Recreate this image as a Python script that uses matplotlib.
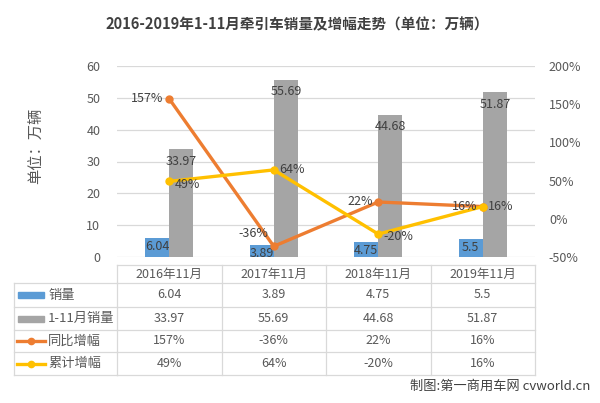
import matplotlib.pyplot as plt
import matplotlib.transforms as mtransforms
from matplotlib.lines import Line2D
from matplotlib.patches import Rectangle

plt.rcParams['font.family'] = ['Noto Sans CJK SC', 'DejaVu Sans']

# ----------------------------
# Data
# ----------------------------
categories = ["2016年11月", "2017年11月", "2018年11月", "2019年11月"]
nov_sales = [6.04, 3.89, 4.75, 5.5]
ytd_sales = [33.97, 55.69, 44.68, 51.87]
yoy_growth = [157, -36, 22, 16]
ytd_growth = [49, 64, -20, 16]

series_names = ["销量", "1-11月销量", "同比增幅", "累计增幅"]

BLUE = "#5B9BD5"
GRAY = "#A5A5A5"
ORANGE = "#ED7D31"
YELLOW = "#FFC000"
TEXT = "#595959"
GRID = "#D9D9D9"

W, H = 600, 403
fig = plt.figure(figsize=(W / 100, H / 100), dpi=100)


def fx(px):
    return px / W


def fy(py):
    return 1 - py / H


# plot area (pixels): x 117..535, y 66..257
ax = fig.add_axes([fx(117), fy(257), fx(535) - fx(117), fy(66) - fy(257)])
ax2 = ax.twinx()

x = list(range(len(categories)))
bw = 0.23

# ----------------------------
# Bars
# ----------------------------
b1 = ax.bar([i - bw / 2 for i in x], nov_sales, width=bw, color=BLUE, zorder=2)
b2 = ax.bar([i + bw / 2 for i in x], ytd_sales, width=bw, color=GRAY, zorder=2)

for rect, v in zip(b1, nov_sales):
    ax.text(rect.get_x() + rect.get_width() / 2, v - 0.6, f"{v:g}",
            ha="center", va="top", fontsize=9, color="#404040", zorder=5)
for rect, v in zip(b2, ytd_sales):
    ax.text(rect.get_x() + rect.get_width() / 2, v - 1.8, f"{v:g}",
            ha="center", va="top", fontsize=9, color="#404040", zorder=5)

ax.set_xlim(-0.5, len(categories) - 0.5)
ax.set_ylim(0, 60)
ax.set_yticks(range(0, 61, 10))
ax.yaxis.grid(True, color=GRID, linewidth=0.9)
ax.set_axisbelow(True)
ax.set_xticks([])
for s in ax.spines.values():
    s.set_visible(False)
ax.tick_params(axis="y", length=0, labelsize=9, colors=TEXT, pad=12)

# ----------------------------
# Lines
# ----------------------------
ax2.plot(x, yoy_growth, color=ORANGE, lw=2.4, marker="o", ms=5, zorder=4)
ax2.plot(x, ytd_growth, color=YELLOW, lw=2.4, marker="o", ms=5, zorder=4)

# label offsets (points) so the labels sit like the excel ones
yoy_offsets = [(-4, 0), (-4, 9), (-4, 0), (-4, 0)]
ytd_offsets = [(4, -2), (4, 0), (4, -2), (4, 0)]

for i, v in enumerate(yoy_growth):
    ax2.annotate(f"{v}%", (i, v), xytext=yoy_offsets[i], textcoords="offset points",
                 ha="right", va="center", fontsize=9, color="#404040", zorder=6)
for i, v in enumerate(ytd_growth):
    ax2.annotate(f"{v}%", (i, v), xytext=ytd_offsets[i], textcoords="offset points",
                 ha="left", va="center", fontsize=9, color="#404040", zorder=6)

ax2.set_ylim(-50, 200)
ax2.set_yticks(range(-50, 201, 50))
ax2.set_yticklabels([f"{t}%" for t in range(-50, 201, 50)])
for s in ax2.spines.values():
    s.set_visible(False)
ax2.tick_params(axis="y", length=0, labelsize=9, colors=TEXT, pad=10)

# ----------------------------
# Title and axis label
# ----------------------------
fig.text(fx(297), fy(24), "2016-2019年1-11月牵引车销量及增幅走势（单位：万辆）",
         ha="center", va="center", fontsize=10.5, fontweight="bold", color="#404040")
fig.text(fx(37), fy(146), "单位：万辆", rotation=90, ha="center", va="center",
         fontsize=11, color=TEXT)

# ----------------------------
# Data table
# ----------------------------
trans = mtransforms.blended_transform_factory(ax.transData, fig.transFigure)
row_edges = [265, 283, 307, 330, 352, 375]
left_px, first_col_px = 14, 117
line_kw = dict(color=GRID, lw=0.9, clip_on=False)

# horizontal lines across data columns
for i, r in enumerate(row_edges):
    fig.add_artist(Line2D([-0.5, len(categories) - 0.5], [fy(r), fy(r)],
                          transform=trans, **line_kw))
    if i >= 1:
        fig.add_artist(Line2D([fx(left_px), fx(first_col_px)], [fy(r), fy(r)], **line_kw))
# vertical lines
for k in range(len(categories) + 1):
    fig.add_artist(Line2D([k - 0.5, k - 0.5], [fy(row_edges[0]), fy(row_edges[-1])],
                          transform=trans, **line_kw))
fig.add_artist(Line2D([fx(left_px), fx(left_px)], [fy(row_edges[1]), fy(row_edges[-1])], **line_kw))

row_mid = [(row_edges[i] + row_edges[i + 1]) / 2 for i in range(len(row_edges) - 1)]

for i, c in enumerate(categories):
    fig.text(i, fy(row_mid[0]), c, transform=trans, ha="center", va="center",
             fontsize=9, color=TEXT)

table_rows = [
    [f"{v:g}" for v in nov_sales],
    [f"{v:g}" for v in ytd_sales],
    [f"{v}%" for v in yoy_growth],
    [f"{v}%" for v in ytd_growth],
]
for r, vals in enumerate(table_rows):
    for i, v in enumerate(vals):
        fig.text(i, fy(row_mid[r + 1]), v, transform=trans, ha="center", va="center",
                 fontsize=9, color=TEXT)

# legend keys + names in the first column
key_colors = [BLUE, GRAY, ORANGE, YELLOW]
for r, (name, col) in enumerate(zip(series_names, key_colors)):
    yc = fy(row_mid[r + 1])
    if r < 2:
        fig.add_artist(Rectangle((fx(18), yc - 3 / H), 26 / W, 6 / H,
                                 color=col, transform=fig.transFigure))
    else:
        fig.add_artist(Line2D([fx(17), fx(45)], [yc, yc], color=col, lw=2.4,
                              transform=fig.transFigure))
        fig.add_artist(Line2D([fx(31)], [yc], color=col, marker="o", ms=4.5,
                              transform=fig.transFigure))
    fig.text(fx(48), yc, name, ha="left", va="center", fontsize=9.5, color=TEXT)

# ----------------------------
# Source note
# ----------------------------
fig.text(fx(590), fy(386), "制图:第一商用车网 cvworld.cn", ha="right", va="center",
         fontsize=9.5, color="#404040")

fig.savefig("out.png", dpi=100)
